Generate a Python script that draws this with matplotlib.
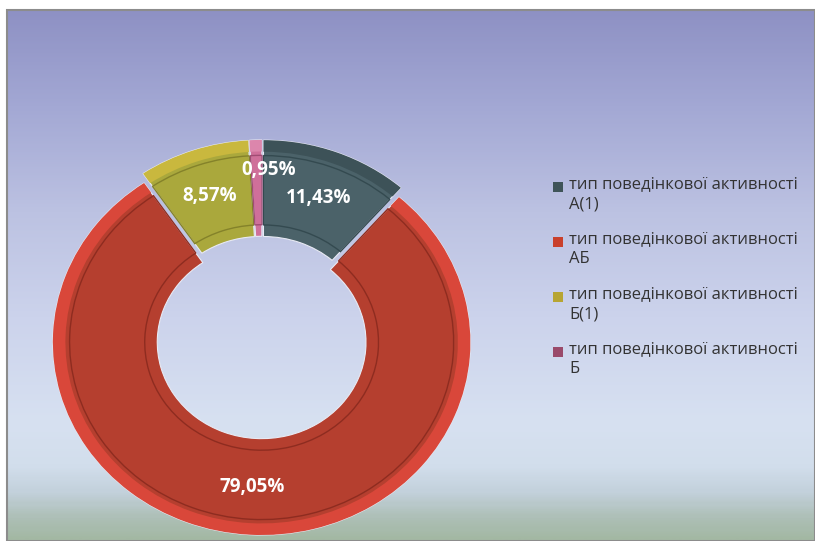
import numpy as np
import matplotlib.pyplot as plt
from matplotlib.colors import LinearSegmentedColormap
from matplotlib.patches import Rectangle

# дані
labels = ["тип поведінкової активності\nА(1)",
          "тип поведінкової активності\nАБ",
          "тип поведінкової активності\nБ(1)",
          "тип поведінкової активності\nБ"]
values = [11.43, 79.05, 8.57, 0.95]
pct_text = ["11,43%", "79,05%", "8,57%", "0,95%"]

colors = ["#4b6269", "#b53f2f", "#aaa83c", "#cf6f9a"]
rim_colors = ["#3d5258", "#d9473a", "#c9b83e", "#dc86ac"]
edge_dark = ["#344a50", "#8e2c20", "#84822a", "#a04c74"]
legend_colors = ["#3f5458", "#c9402c", "#b7a532", "#9a4a6a"]

plt.rcParams['font.family'] = ['Open Sans', 'DejaVu Sans']

W, H = 815, 541
fig = plt.figure(figsize=(W / 100, H / 100), dpi=100)
fig.patch.set_facecolor("white")

# фон з градієнтом
bg = fig.add_axes([7 / W, 0, 1 - 7 / W, 531 / H])
stops = [(0.0, "#8e91c4"), (0.18, "#a3a8d4"), (0.38, "#bcc2e2"),
         (0.58, "#ccd3ec"), (0.78, "#d7e1f1"), (0.86, "#d2deec"),
         (0.91, "#c3d1dc"), (0.96, "#adbfb6"), (1.0, "#a3b8a3")]
cmap = LinearSegmentedColormap.from_list("bg", stops)
grad = np.linspace(0, 1, 300).reshape(-1, 1)
bg.imshow(grad, aspect="auto", cmap=cmap, extent=[0, 1, 0, 1])
bg.set_axis_off()
fig.add_artist(Rectangle((7 / W, 0), 1 - 7 / W, 531 / H, transform=fig.transFigure,
                         fill=False, edgecolor="#8c8c8c", linewidth=1.5))

# кільцева діаграма
ax = fig.add_axes([47 / W, 6 / H, 430 / W, 397 / H])
explode = [0.02, 0.03, 0.02, 0.02]
wedges, texts, autotexts = ax.pie(values, colors=colors, startangle=90, counterclock=False,
                                  explode=explode, radius=1.0,
                                  wedgeprops=dict(width=0.5, edgecolor="#e8eaf4", linewidth=0.8),
                                  autopct="%.2f%%", pctdistance=0.75)
# зовнішній обідок
ax.pie(values, colors=rim_colors, startangle=90, counterclock=False, explode=explode,
       radius=1.0, wedgeprops=dict(width=0.06, linewidth=0))
# внутрішні рамки (імітація фаски)
inner, _ = ax.pie(values, startangle=90, counterclock=False, explode=explode, radius=0.92,
                  wedgeprops=dict(width=0.36, facecolor="none", linewidth=1.0))
for w, c in zip(inner, edge_dark):
    w.set_edgecolor(c)
    w.set_facecolor("none")

for t, s in zip(autotexts, pct_text):
    t.set_text(s)
    t.set_color("white")
    t.set_fontsize(13.5)
    t.set_fontweight("bold")
    t.set_zorder(5)
x, y = autotexts[3].get_position()
autotexts[3].set_position((x * 0.4 + 0.04, y * 1.12))

ax.set_aspect("auto")
ax.set_xlim(-1.03, 1.03)
ax.set_ylim(-1.03, 1.03)

# легенда
y0 = 187
for i, (lab, c) in enumerate(zip(labels, legend_colors)):
    yy = y0 + i * 55
    fig.add_artist(Rectangle((553 / W, 1 - (yy + 5) / H), 10 / W, 10 / H,
                             transform=fig.transFigure, facecolor=c, edgecolor="none"))
    fig.text(569 / W, 1 - (yy - 11) / H, lab, ha="left", va="top", fontsize=12,
             color="#333333", linespacing=1.35)

fig.savefig("out.png", dpi=100)
